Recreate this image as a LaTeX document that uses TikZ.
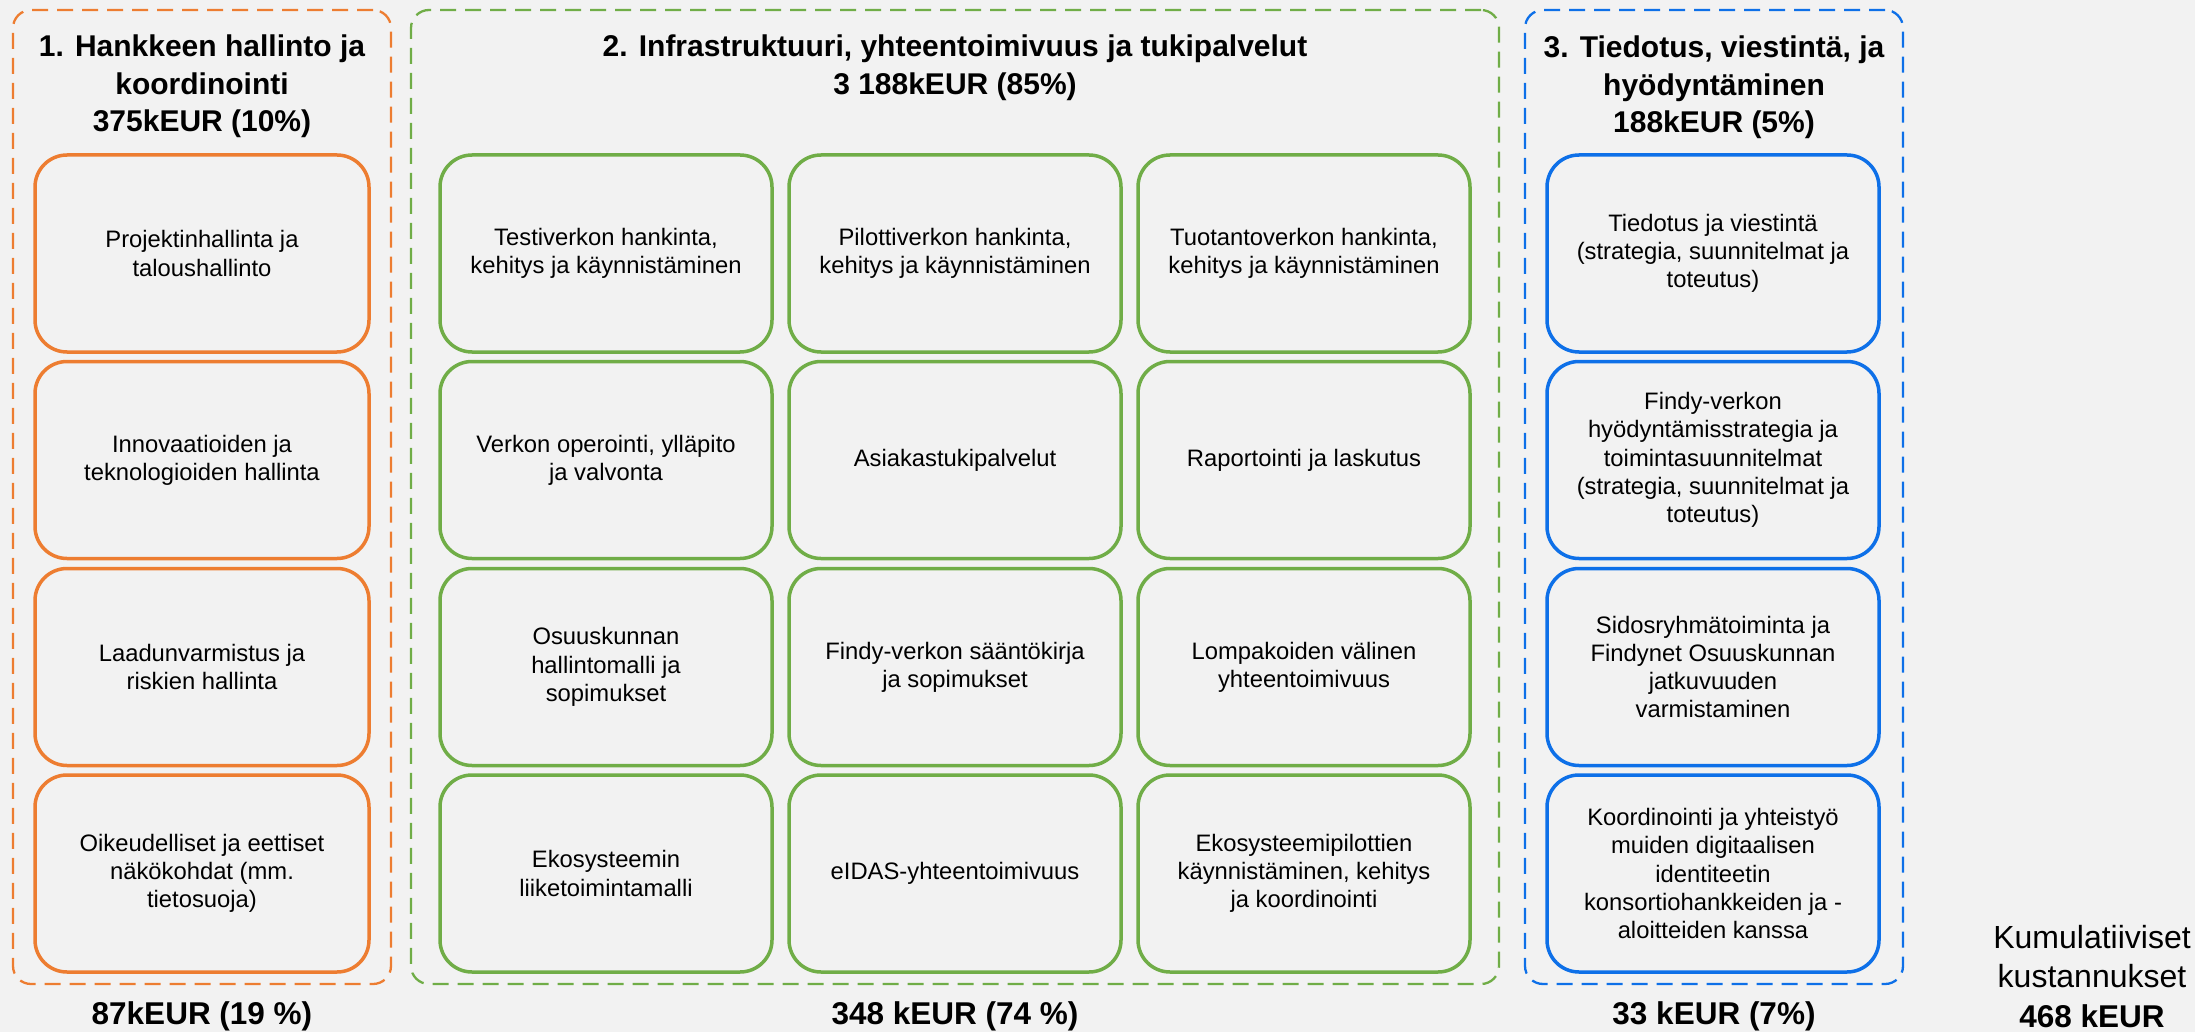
\documentclass[tikz,border=0pt]{standalone}
\usepackage{fontspec}
\setmainfont{Liberation Sans}
\definecolor{bg}{HTML}{F2F2F2}
\definecolor{corange}{HTML}{ED7D31}
\definecolor{cgreen}{HTML}{70AD47}
\definecolor{cblue}{RGB}{14,112,232}
\begin{document}
\begin{tikzpicture}[x=1pt,y=-1pt,
  outerbox/.style={draw=#1, line width=2.3pt, dash pattern=on 16pt off 9pt,
    rounded corners=18pt, inner sep=0pt, minimum height=974pt},
  innerbox/.style={draw=#1, line width=3.5pt, rounded corners=32pt,
    minimum width=332pt, minimum height=197pt, inner sep=0pt, align=center,
    font=\fontsize{23.8}{28.3}\selectfont},
  tline/.style={anchor=base, inner sep=0pt, font=\fontsize{30}{36}\selectfont\bfseries},
  amount/.style={anchor=base, inner sep=0pt, font=\fontsize{31.5}{38}\selectfont\bfseries},
  cumul/.style={anchor=base, inner sep=0pt, font=\fontsize{32}{38}\selectfont},
]
\fill[bg] (0,0) rectangle (2195,1032);
\useasboundingbox (0,0) rectangle (2195,1032);

% outer groups
\node[outerbox=corange, minimum width=378pt] (g1) at (202,497) {};
\node[outerbox=cgreen, minimum width=1088pt] (g2) at (955,497) {};
\node[outerbox=cblue, minimum width=378pt] (g3) at (1714,497) {};

% titles
\node[tline] (t1a) at (202,57) {1. Hankkeen hallinto ja};
\node[tline] (t1b) at (202,94.5) {koordinointi};
\node[tline] (t1c) at (202,132) {375kEUR (10\%)};
\node[tline] (t2a) at (955,57) {2. Infrastruktuuri, yhteentoimivuus ja tukipalvelut};
\node[tline] (t2b) at (955,94.5) {3 188kEUR (85\%)};
\node[tline] (t3a) at (1714,58) {3. Tiedotus, viestintä, ja};
\node[tline] (t3b) at (1714,95.5) {hyödyntäminen};
\node[tline] (t3c) at (1714,133) {188kEUR (5\%)};

% column 1 (orange)
\node[innerbox=corange, minimum width=334pt] (o1) at (202,253.5) {Projektinhallinta ja\\taloushallinto};
\node[innerbox=corange, minimum width=334pt] (o2) at (202,460) {Innovaatioiden ja\\teknologioiden hallinta};
\node[innerbox=corange, minimum width=334pt] (o3) at (202,667) {Laadunvarmistus ja\\riskien hallinta};
\node[innerbox=corange, minimum width=334pt] (o4) at (202,873.5) {Oikeudelliset ja eettiset\\näkökohdat (mm.\\tietosuoja)};

% green grid
\node[innerbox=cgreen] (a1) at (606,253.5) {Testiverkon hankinta,\\kehitys ja käynnistäminen};
\node[innerbox=cgreen] (b1) at (955,253.5) {Pilottiverkon hankinta,\\kehitys ja käynnistäminen};
\node[innerbox=cgreen] (c1) at (1304,253.5) {Tuotantoverkon hankinta,\\kehitys ja käynnistäminen};
\node[innerbox=cgreen] (a2) at (606,460) {Verkon operointi, ylläpito\\ja valvonta};
\node[innerbox=cgreen] (b2) at (955,460) {Asiakastukipalvelut};
\node[innerbox=cgreen] (c2) at (1304,460) {Raportointi ja laskutus};
\node[innerbox=cgreen] (a3) at (606,667) {Osuuskunnan\\hallintomalli ja\\sopimukset};
\node[innerbox=cgreen] (b3) at (955,667) {Findy-verkon sääntökirja\\ja sopimukset};
\node[innerbox=cgreen] (c3) at (1304,667) {Lompakoiden välinen\\yhteentoimivuus};
\node[innerbox=cgreen] (a4) at (606,873.5) {Ekosysteemin\\liiketoimintamalli};
\node[innerbox=cgreen] (b4) at (955,873.5) {eIDAS-yhteentoimivuus};
\node[innerbox=cgreen] (c4) at (1304,873.5) {Ekosysteemipilottien\\käynnistäminen, kehitys\\ja koordinointi};

% blue column
\node[innerbox=cblue] (u1) at (1713,253.5) {Tiedotus ja viestintä\\(strategia, suunnitelmat ja\\toteutus)};
\node[innerbox=cblue] (u2) at (1713,460) {Findy-verkon\\hyödyntämisstrategia ja\\toimintasuunnitelmat\\(strategia, suunnitelmat ja\\toteutus)};
\node[innerbox=cblue] (u3) at (1713,667) {Sidosryhmätoiminta ja\\Findynet Osuuskunnan\\jatkuvuuden\\varmistaminen};
\node[innerbox=cblue] (u4) at (1713,873.5) {Koordinointi ja yhteistyö\\muiden digitaalisen\\identiteetin\\konsortiohankkeiden ja -\\aloitteiden kanssa};

% bottom amounts
\node[amount] (m1) at (202,1024) {87kEUR (19 \%)};
\node[amount] (m2) at (955,1024) {348 kEUR (74 \%)};
\node[amount] (m3) at (1714,1024) {33 kEUR (7\%)};
\node[cumul] (k1) at (2092,948) {Kumulatiiviset};
\node[cumul] (k2) at (2092,987) {kustannukset};
\node[amount] (k3) at (2092,1027) {468 kEUR};
\end{tikzpicture}
\end{document}
